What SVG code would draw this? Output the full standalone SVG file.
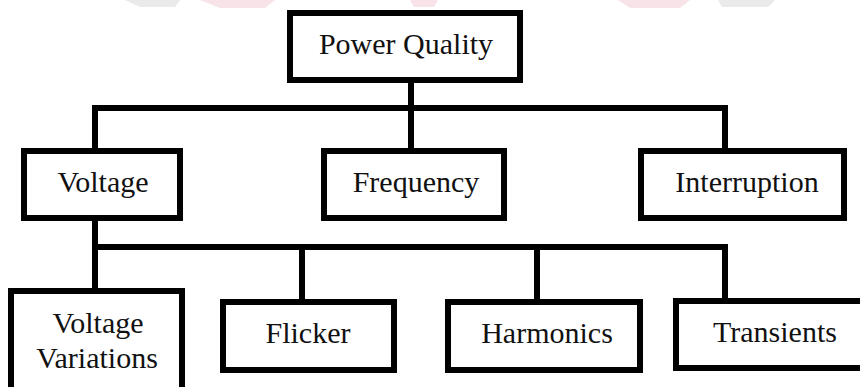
<svg xmlns="http://www.w3.org/2000/svg" width="860" height="387" viewBox="0 0 860 387">
<style>
.box{fill:#fff;stroke:#000;stroke-width:6;stroke-linejoin:miter}
.lbl{font-family:"Liberation Serif","Times New Roman",serif;font-size:30px;fill:#111;text-anchor:middle}
.wire{fill:none;stroke:#000;stroke-width:6;stroke-linejoin:miter;stroke-linecap:butt}
.wm{opacity:0.3}
</style>
<rect width="860" height="387" fill="#fff"/>
<g id="watermark" class="wm">
<path d="M125,0 H180 L175,7 H140 Z" fill="#bbb"/>
<path d="M200,0 H275 L265,8 H220 Z" fill="#e9a6b8"/>
<path d="M410,0 H438 L434,7 H414 Z" fill="#e9a6b8"/>
<path d="M618,0 H690 L680,8 H630 Z" fill="#e9a6b8"/>
<path d="M718,0 H775 L768,7 H722 Z" fill="#bbb"/>
</g>
<g id="connectors">
<path class="wire" d="M95,151 V108 H725 V151"/>
<path class="wire" d="M411,80 V151"/>
<path class="wire" d="M95,218 V247 H725 V301"/>
<path class="wire" d="M95,247 V291"/>
<path class="wire" d="M302,247 V302"/>
<path class="wire" d="M537,247 V302"/>
</g>
<g id="power-quality">
<rect class="box" x="290" y="13" width="230" height="67"/>
<text class="lbl" x="406" y="54">Power Quality</text>
</g>
<g id="voltage">
<rect class="box" x="24" y="151" width="156" height="67"/>
<text class="lbl" x="103" y="192">Voltage</text>
</g>
<g id="frequency">
<rect class="box" x="324" y="151" width="180" height="67"/>
<text class="lbl" x="416" y="192">Frequency</text>
</g>
<g id="interruption">
<rect class="box" x="641" y="151" width="203" height="67"/>
<text class="lbl" x="747" y="192">Interruption</text>
</g>
<g id="voltage-variations">
<rect class="box" x="11" y="291" width="171" height="110"/>
<text class="lbl" x="98" y="333">Voltage</text>
<text class="lbl" x="97" y="368">Variations</text>
</g>
<g id="flicker">
<rect class="box" x="223" y="302" width="171" height="68"/>
<text class="lbl" x="308" y="343">Flicker</text>
</g>
<g id="harmonics">
<rect class="box" x="448" y="302" width="192" height="68"/>
<text class="lbl" x="547" y="343">Harmonics</text>
</g>
<g id="transients">
<rect class="box" x="676" y="301" width="200" height="67"/>
<text class="lbl" x="775" y="342">Transients</text>
</g>
</svg>
